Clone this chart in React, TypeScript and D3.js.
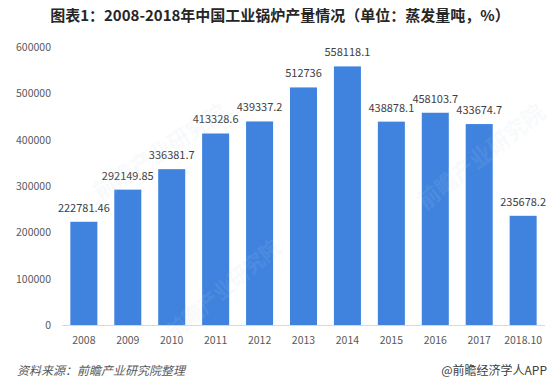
import React from "react";
import * as d3 from "d3";

const categories = ["2008", "2009", "2010", "2011", "2012", "2013", "2014", "2015", "2016", "2017", "2018.10"];
const values = [222781.46, 292149.85, 336381.7, 413328.6, 439337.2, 512736, 558118.1, 438878.1, 458103.7, 433674.7, 235678.2];
const valueLabels = ["222781.46", "292149.85", "336381.7", "413328.6", "439337.2", "512736", "558118.1", "438878.1", "458103.7", "433674.7", "235678.2"];
const yTicks = [0, 100000, 200000, 300000, 400000, 500000, 600000];
const title = "图表1：2008-2018年中国工业锅炉产量情况（单位：蒸发量吨，%）";
const sourceText = "资料来源：前瞻产业研究院整理";
const brandText = "@前瞻经济学人APP";
const watermark = "前瞻产业研究院";

const W = 559;
const H = 386;
const FONT = "'Noto Sans CJK SC', 'Noto Sans', sans-serif";

export default function App() {
  const x = d3.scaleBand<string>().domain(categories).range([62, 545]).paddingInner(0.385).paddingOuter(0.19);
  const y = d3.scaleLinear().domain([0, 600000]).range([325, 47]);

  return (
    <svg width={W} height={H} style={{ position: "absolute", left: 0, top: 0, background: "#fff" }} fontFamily={FONT}>
      <rect x={0} y={0} width={W} height={H} fill="#fff" />
      <text x={280} y={21} textAnchor="middle" fontSize={15} fontWeight="bold" fill="#262626">
        {title}
      </text>
      {yTicks.map((t) => (
        <text key={t} x={51} y={y(t) + 4} textAnchor="end" fontSize={10.5} fill="#595959">
          {t}
        </text>
      ))}
      {categories.map((c, i) => (
        <rect key={c} x={x(c)} y={y(values[i])} width={x.bandwidth()} height={y(0) - y(values[i])} fill="#3f83df" />
      ))}
      <line x1={62} x2={545} y1={y(0) + 0.5} y2={y(0) + 0.5} stroke="#d9d9d9" strokeWidth={1} />
      {categories.map((c, i) => (
        <text key={"v" + c} x={(x(c) as number) + x.bandwidth() / 2} y={y(values[i]) - 10} textAnchor="middle" fontSize={11} fill="#404040">
          {valueLabels[i]}
        </text>
      ))}
      {categories.map((c) => (
        <text key={"x" + c} x={(x(c) as number) + x.bandwidth() / 2} y={344} textAnchor="middle" fontSize={10.5} fill="#595959">
          {c}
        </text>
      ))}
      <g fill="#c3cedb" opacity={0.12} fontSize={22} fontWeight="bold">
        <text transform="translate(100,200) rotate(-33)">{watermark}</text>
        <text transform="translate(425,210) rotate(-38)">{watermark}</text>
        <text transform="translate(175,340) rotate(-40)" fontSize={20}>{watermark}</text>
      </g>
      <text x={17} y={375} fontSize={12} fontStyle="italic" fill="#595959">
        {sourceText}
      </text>
      <text x={547} y={375} textAnchor="end" fontSize={12} fill="#404040">
        {brandText}
      </text>
    </svg>
  );
}
